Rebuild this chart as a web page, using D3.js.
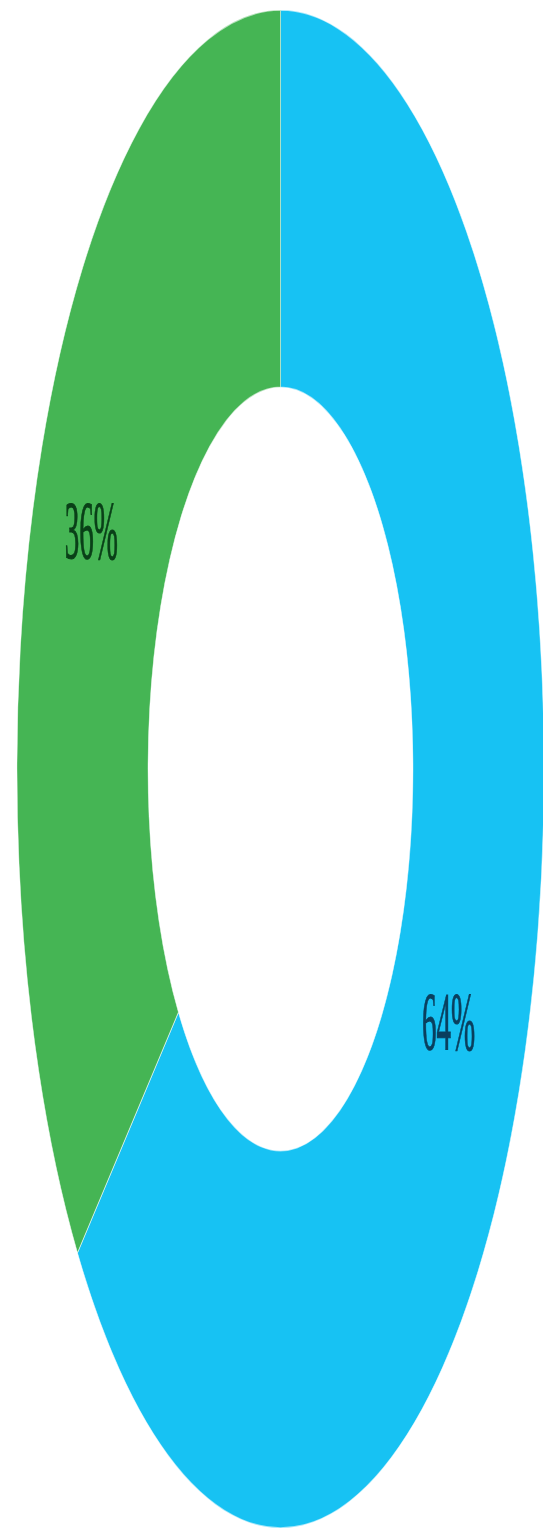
<!DOCTYPE html>
<html>
<head>
<meta charset="utf-8">
<script src="https://cdn.jsdelivr.net/npm/d3@7"></script>
<style>
  html, body { margin: 0; padding: 0; background: #ffffff; }
  svg { display: block; }
</style>
</head>
<body>
<svg id="chart" width="543" height="1532"></svg>
<script>
// Two-part share of a whole
const categories = ["Blue", "Green"];
const values = [64, 36];
const colors = ["#17c2f3", "#45b554"];
const labelColors = ["#0a3f5e", "#0a4018"];

const width = 543, height = 1532;
const cx = 280.5, cy = 769;
const outerR = 263.5, innerR = 132.5;
const stretchY = 759 / outerR; // the donut is drawn stretched vertically

const svg = d3.select("#chart");

const g = svg.append("g")
  .attr("transform", `translate(${cx},${cy}) scale(1,${stretchY})`);

const pie = d3.pie().sort(null).value(d => d.value);
const data = categories.map((c, i) => ({ category: c, value: values[i], i }));
const arcs = pie(data);

const arc = d3.arc().innerRadius(innerR).outerRadius(outerR);

g.selectAll("path.slice")
  .data(arcs)
  .join("path")
  .attr("class", "slice")
  .attr("d", arc)
  .attr("fill", d => colors[d.data.i])
  .attr("stroke", "#ffffff")
  .attr("stroke-width", 0.6)
  .attr("stroke-opacity", 0.6);

const total = d3.sum(values);

g.selectAll("text.label")
  .data(arcs)
  .join("text")
  .attr("class", "label")
  .attr("transform", d => {
    const [x, y] = arc.centroid(d);
    return `translate(${x},${y})`;
  })
  .attr("dx", d => d.data.i === 0 ? -11 : -10)
  .attr("dy", d => d.data.i === 0 ? "0.45em" : "0.38em")
  .attr("text-anchor", "middle")
  .attr("font-family", "'Liberation Serif', 'Times New Roman', serif")
  .attr("font-size", 29)
  .attr("fill", d => labelColors[d.data.i])
  .attr("stroke", d => labelColors[d.data.i])
  .attr("stroke-width", 0.4)
  .text(d => Math.round(d.data.value / total * 100) + "%");
</script>
</body>
</html>
